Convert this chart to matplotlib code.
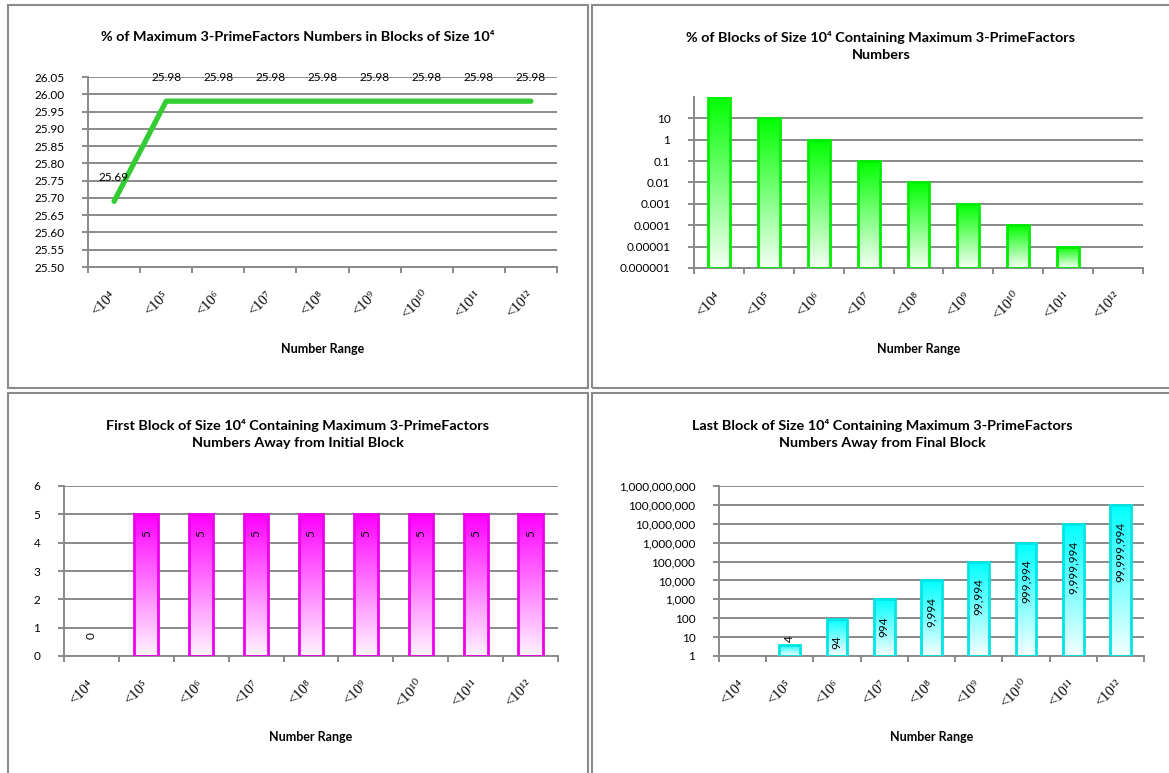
import numpy as np
import matplotlib
matplotlib.use("Agg")
import matplotlib.pyplot as plt
import matplotlib.colors as mcolors
import matplotlib.patches as mpatches
from matplotlib.ticker import FixedLocator, FuncFormatter, NullLocator

plt.rcParams['font.family'] = ['Lato', 'DejaVu Sans']

# data
exponents = ['\u2074', '\u2075', '\u2076', '\u2077', '\u2078', '\u2079',
             '\u00b9\u2070', '\u00b9\u00b9', '\u00b9\u00b2']
range_labels = ['<10' + e for e in exponents]
pct_max_numbers = [25.69, 25.98, 25.98, 25.98, 25.98, 25.98, 25.98, 25.98, 25.98]
pct_blocks = [100, 10, 1, 0.1, 0.01, 0.001, 0.0001, 0.00001, 0.000001]
pct_ticks = [0.000001, 0.00001, 0.0001, 0.001, 0.01, 0.1, 1, 10]
first_block = [0, 5, 5, 5, 5, 5, 5, 5, 5]
last_block = [0, 4, 94, 994, 9994, 99994, 999994, 9999994, 99999994]
last_ticks = [1, 10, 100, 1000, 10000, 100000, 1000000, 10000000, 100000000, 1000000000]

titles = ['% of Maximum 3-PrimeFactors Numbers in Blocks of Size 10\u2074',
          '% of Blocks of Size 10\u2074 Containing Maximum 3-PrimeFactors\nNumbers',
          'First Block of Size 10\u2074 Containing Maximum 3-PrimeFactors\nNumbers Away from Initial Block',
          'Last Block of Size 10\u2074 Containing Maximum 3-PrimeFactors\nNumbers Away from Final Block']

W, H = 1169, 773
GRAY = '#8a8a8a'

fig = plt.figure(figsize=(W / 100, H / 100), dpi=100)


def px(x0, y0, x1, y1):
    return [x0 / W, 1 - y1 / H, (x1 - x0) / W, (y1 - y0) / H]


# panel frames
for (x0, y0, x1, y1) in [(8, 5, 588, 388), (592, 5, 1175, 388),
                         (8, 393, 588, 780), (592, 393, 1175, 780)]:
    fig.add_artist(mpatches.Rectangle((x0 / W, 1 - y1 / H), (x1 - x0) / W, (y1 - y0) / H,
                                      transform=fig.transFigure, fill=False,
                                      edgecolor=GRAY, lw=1.5))


def style(ax):
    x = np.arange(len(exponents))
    for s in ['top', 'right']:
        ax.spines[s].set_visible(False)
    for s in ['left', 'bottom']:
        ax.spines[s].set_color(GRAY)
        ax.spines[s].set_linewidth(1.4)
    ax.set_xlim(-0.5, len(exponents) - 0.5)
    ax.set_xticks(x)
    ax.set_xticklabels(range_labels, rotation=45, ha='right', va='center',
                       rotation_mode='anchor', fontsize=10.5,
                       family=['Liberation Serif', 'DejaVu Serif'])
    ax.set_xticks(np.arange(-0.5, len(exponents)), minor=True)
    ax.tick_params(axis='x', which='major', length=0, pad=19)
    ax.tick_params(axis='x', which='minor', length=4, width=1.4, color=GRAY)
    ax.tick_params(axis='y', which='major', length=4, width=1.4, color=GRAY,
                   pad=13, labelsize=8.5)
    ax.yaxis.set_minor_locator(NullLocator())
    ax.grid(axis='y', color=GRAY, lw=1.4)
    ax.set_axisbelow(True)


def grad_bars(ax, vals, color, edge, base):
    idx = [i for i, v in enumerate(vals) if v > base]
    bars = ax.bar(idx, [vals[i] - base for i in idx], bottom=base, width=0.44,
                  facecolor='none', edgecolor=edge, lw=2.0, zorder=3)
    rgb = np.array(mcolors.to_rgb(color))
    f = np.linspace(0.04, 1, 256)[:, None, None]
    img = (1 - f) * np.ones(3) + f * rgb
    trans = ax.get_xaxis_transform()
    ax.set_autoscale_on(False)
    for b, i in zip(bars, idx):
        top = ax.transLimits.transform(ax.transScale.transform((i, vals[i])))[1]
        im = ax.imshow(img, extent=[b.get_x(), b.get_x() + b.get_width(), 0, top],
                       transform=trans, origin='lower', aspect='auto', zorder=2,
                       interpolation='bilinear')
        im.set_clip_path(b)
    return idx


def plain(v, p):
    return '{:.6f}'.format(v).rstrip('0').rstrip('.')


# top-left: line chart
ax1 = fig.add_axes(px(88, 77, 557, 267))
style(ax1)
x = np.arange(len(exponents))
ax1.plot(x, pct_max_numbers, color='#33cc33', lw=3.8, solid_capstyle='round',
         solid_joinstyle='round', zorder=3)
ax1.set_ylim(25.50, 26.05)
ax1.set_yticks(np.arange(25.50, 26.051, 0.05))
ax1.yaxis.set_major_formatter(FuncFormatter(lambda v, p: '%.2f' % v))
for i, v in enumerate(pct_max_numbers):
    ax1.annotate('%.2f' % v, (i, v), xytext=(0, 24), textcoords='offset pixels',
                 ha='center', va='center', fontsize=8.5)

# top-right: log bar chart
ax2 = fig.add_axes(px(694, 97, 1143, 268))
style(ax2)
ax2.set_yscale('log')
ax2.set_ylim(pct_ticks[0], pct_blocks[0])
ax2.yaxis.set_major_locator(FixedLocator(pct_ticks))
ax2.yaxis.set_minor_locator(NullLocator())
ax2.yaxis.set_major_formatter(FuncFormatter(plain))
ax2.set_xlim(-0.5, len(exponents) - 0.5)
grad_bars(ax2, pct_blocks, '#00ff00', '#00ee00', pct_ticks[0])
ax2.set_xlim(-0.5, len(exponents) - 0.5)
ax2.set_ylim(pct_ticks[0], pct_blocks[0])

# bottom-left: linear bar chart
ax3 = fig.add_axes(px(64, 486, 558, 656))
style(ax3)
ax3.set_ylim(0, 6)
ax3.set_yticks(range(0, 7))
grad_bars(ax3, first_block, '#ff00ff', '#ee00ee', 0)
ax3.set_xlim(-0.5, len(exponents) - 0.5)
ax3.set_ylim(0, 6)
for i, v in enumerate(first_block):
    if v > 0:
        ax3.annotate(str(v), (i, v), xytext=(0, -16), textcoords='offset pixels',
                     rotation=90, ha='center', va='top', fontsize=8.5)
    else:
        ax3.annotate(str(v), (i, v), xytext=(0, 20), textcoords='offset pixels',
                     rotation=90, ha='center', va='center', fontsize=8.5)

# bottom-right: log bar chart
ax4 = fig.add_axes(px(719, 486, 1144, 656))
style(ax4)
ax4.set_yscale('log')
ax4.set_ylim(last_ticks[0], last_ticks[-1])
ax4.yaxis.set_major_locator(FixedLocator(last_ticks))
ax4.yaxis.set_minor_locator(NullLocator())
ax4.yaxis.set_major_formatter(FuncFormatter(lambda v, p: '{:,.0f}'.format(v)))
ax4.set_xlim(-0.5, len(exponents) - 0.5)
shown = grad_bars(ax4, last_block, '#00ffff', '#00e5e5', last_ticks[0])
ax4.set_xlim(-0.5, len(exponents) - 0.5)
ax4.set_ylim(last_ticks[0], last_ticks[-1])
for i in shown:
    v = last_block[i]
    if v < 10:
        ax4.annotate('{:,}'.format(v), (i, v), xytext=(0, 3), textcoords='offset pixels',
                     rotation=90, ha='center', va='bottom', fontsize=8.5)
    else:
        ax4.annotate('{:,}'.format(v), (i, v), xytext=(0, -17), textcoords='offset pixels',
                     rotation=90, ha='center', va='top', fontsize=8.5)

# titles and axis names
fig.text(298 / W, 1 - 37 / H, titles[0], ha='center', va='center',
         fontsize=10.4, fontweight='bold')
fig.text(881 / W, 1 - 46 / H, titles[1], ha='center', va='center',
         fontsize=10.4, fontweight='bold', linespacing=1.45)
fig.text(298 / W, 1 - 434 / H, titles[2], ha='center', va='center',
         fontsize=10.4, fontweight='bold', linespacing=1.45)
fig.text(882 / W, 1 - 434 / H, titles[3], ha='center', va='center',
         fontsize=10.4, fontweight='bold', linespacing=1.45)

for ax, y in [(ax1, 349), (ax2, 349), (ax3, 737), (ax4, 737)]:
    bb = ax.get_position()
    fig.text(bb.x0 + bb.width / 2, 1 - y / H, 'Number Range', ha='center',
             va='center', fontsize=9, fontweight='bold')

fig.savefig('out.png', dpi=100)
